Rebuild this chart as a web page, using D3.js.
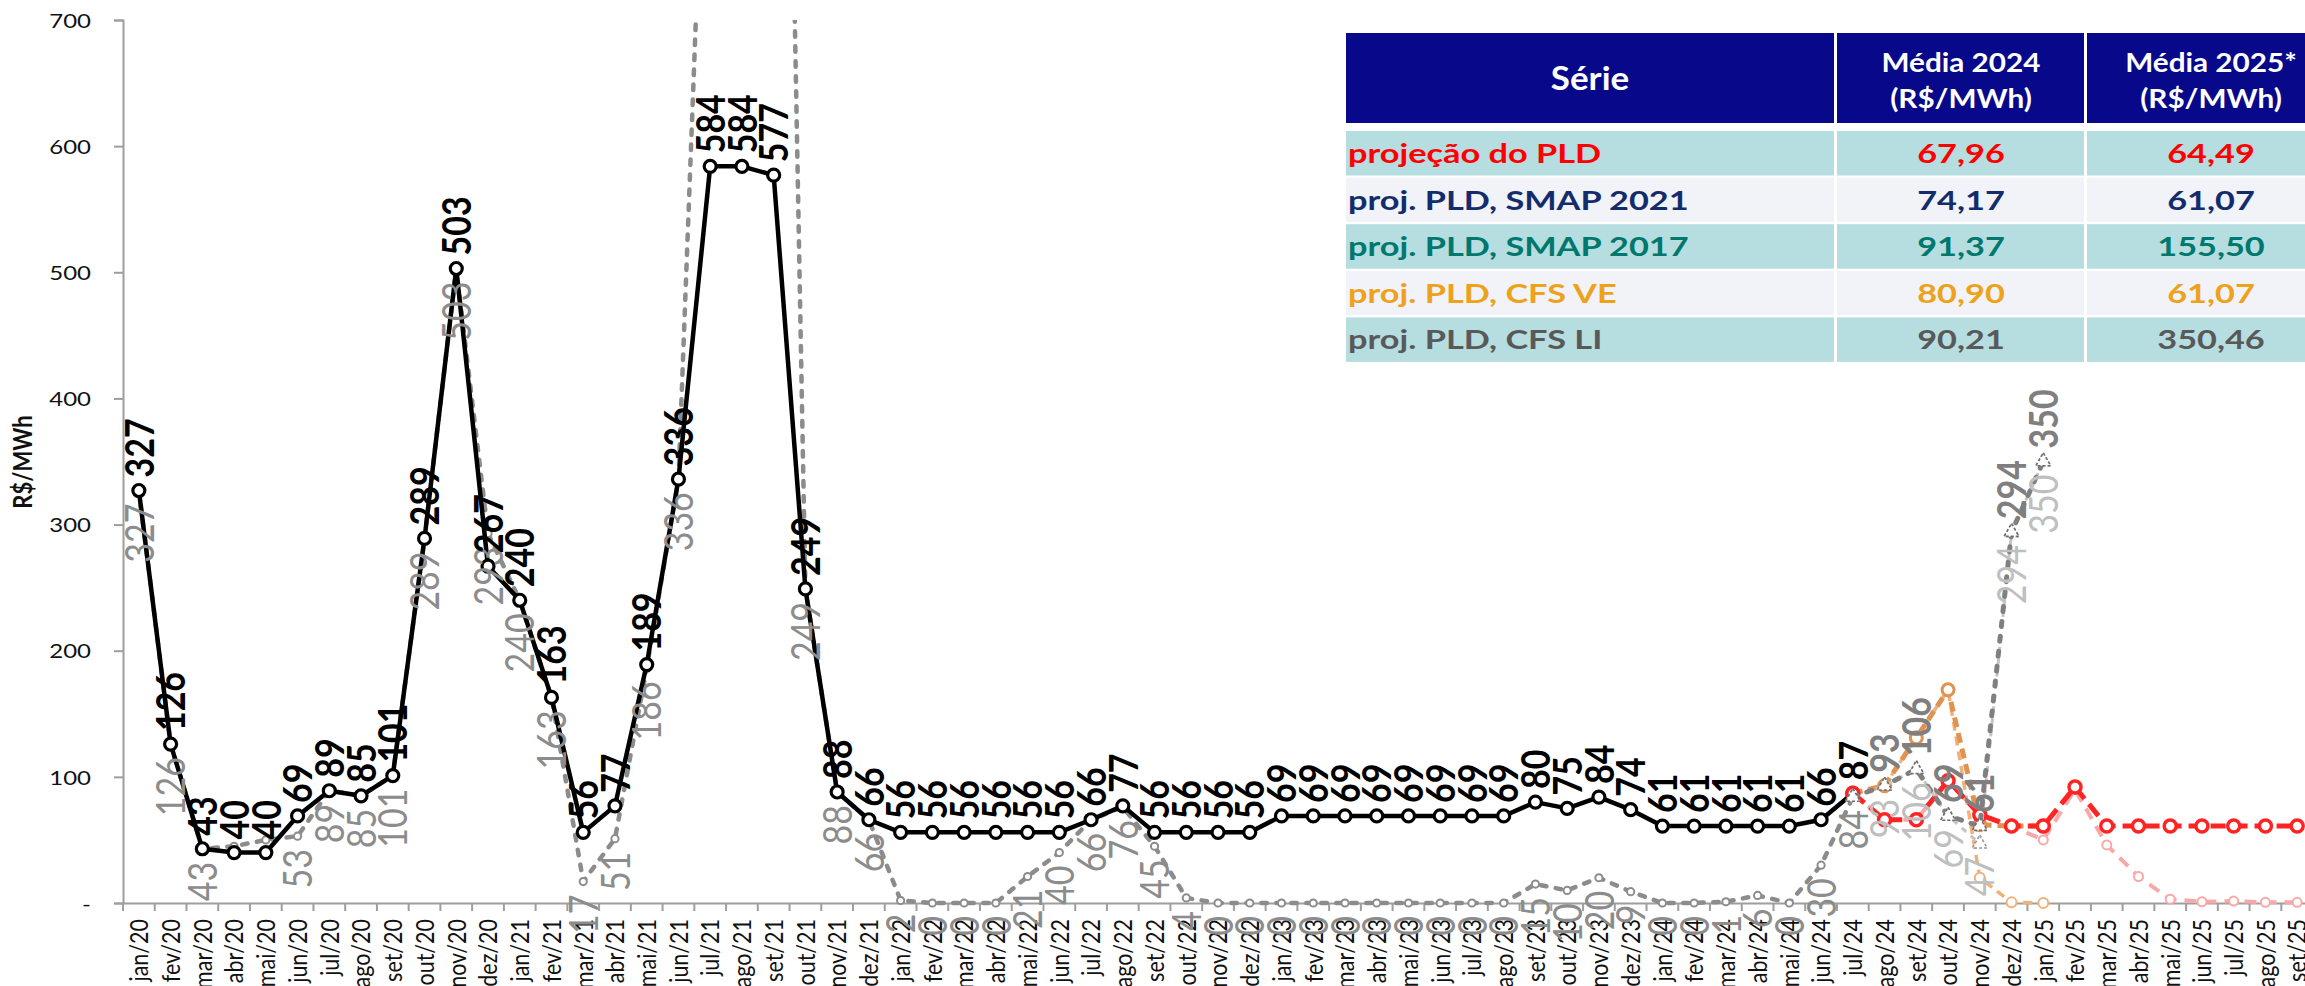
<!DOCTYPE html>
<html><head><meta charset="utf-8">
<script src="https://cdn.jsdelivr.net/npm/d3@7"></script>
<style>html,body{margin:0;padding:0;background:#fff;overflow:hidden}</style>
</head><body>
<svg id="chart" width="2305" height="986"></svg>
<script>
// ---------- DATA ----------
const categories = [
 "jan/20","fev/20","mar/20","abr/20","mai/20","jun/20","jul/20","ago/20","set/20","out/20","nov/20","dez/20",
 "jan/21","fev/21","mar/21","abr/21","mai/21","jun/21","jul/21","ago/21","set/21","out/21","nov/21","dez/21",
 "jan/22","fev/22","mar/22","abr/22","mai/22","jun/22","jul/22","ago/22","set/22","out/22","nov/22","dez/22",
 "jan/23","fev/23","mar/23","abr/23","mai/23","jun/23","jul/23","ago/23","set/23","out/23","nov/23","dez/23",
 "jan/24","fev/24","mar/24","abr/24","mai/24","jun/24","jul/24","ago/24","set/24","out/24","nov/24","dez/24",
 "jan/25","fev/25","mar/25","abr/25","mai/25","jun/25","jul/25","ago/25","set/25"];
const yTicks = [0,100,200,300,400,500,600,700];
const yTickLabels = ["-","100","200","300","400","500","600","700"];

// PLD realizado (black)
const pldHist = [
 327,126,43,40,40,69,89,85,101,289,503,267,
 240,163,56,77,189,336,584,584,577,249,88,66,
 56,56,56,56,56,56,66,77,56,56,56,56,
 69,69,69,69,69,69,69,69,80,75,84,74,
 61,61,61,61,61,66,87,null,null,null,null,null,
 null,null,null,null,null,null,null,null,null];
// backtest series (grey dashed)
const pldBacktest = [
 327,126,43,45,50,53,89,85,101,289,503,293,
 240,163,17,51,186,336,1000,1300,1600,249,88,66,
 2,0,0,0,21,40,66,76,45,4,0,0,
 0,0,0,0,0,0,0,0,15,10,20,9,
 0,0,1,6,0,30,84,null,null,null,null,null,
 null,null,null,null,null,null,null,null,null];
const backtestHiddenLabels = ["abr/20","mai/20"];
// projections
const projPLD = [
 ...Array(54).fill(null),
 87,66,66,97,70,61,
 61,92,61,61,61,61,61,61,61];
const projPink = [
 ...Array(54).fill(null),
 87,66,66,97,70,61,
 50,90,46,21,3,1,1.5,0.5,0.5];
const projOrange = [
 ...Array(54).fill(null),
 87,93,131,169,62,61,
 61,null,null,null,null,null,null,null,null];
const projOrangeLight = [
 ...Array(54).fill(null),
 87,93,131,169,20,0.5,
 0,null,null,null,null,null,null,null,null];
const projGrayDark = [
 ...Array(54).fill(null),
 84,93,106,69,61,294,
 350,null,null,null,null,null,null,null,null];
const projGrayLight = [
 ...Array(54).fill(null),
 84,93,106,69,47,294,
 350,null,null,null,null,null,null,null,null];
const triLabelFrom = "ago/24";

// table
const tableHeader = ["Série", ["Média 2024","(R$/MWh)"], ["Média 2025*","(R$/MWh)"]];
const tableSeries = ["projeção do PLD","proj. PLD, SMAP 2021","proj. PLD, SMAP 2017","proj. PLD, CFS VE","proj. PLD, CFS LI"];
const tableAvg2024 = ["67,96","74,17","91,37","80,90","90,21"];
const tableAvg2025 = ["64,49","61,07","155,50","61,07","350,46"];
const tableColors = ["#ff0000","#132d6c","#00786e","#eea21c","#595959"];

(function(){
// ---------- LAYOUT ----------
const svg = d3.select("#chart");
const FONT = "Lato, 'Open Sans', sans-serif";
const SX = 1.2; // horizontal glyph stretch seen in the reference
const pLeft = 123, pTop = 20, pBottom = 903, bandW = 31.74;
const x = d3.scaleBand().domain(categories).range([pLeft, pLeft + categories.length * bandW]).padding(0);
const cx = c => x(c) + x.bandwidth() / 2;
const y = d3.scaleLinear().domain([0, 700]).range([pBottom, pTop]);

svg.append("defs").append("clipPath").attr("id","plotclip")
  .append("rect").attr("x", pLeft).attr("y", pTop).attr("width", 2400).attr("height", 986 - pTop);

// axes
const yAxis = svg.append("g").attr("transform", `translate(${pLeft},0)`)
  .call(d3.axisLeft(y).tickValues(yTicks).tickSize(9).tickFormat((d,i) => yTickLabels[i]));
yAxis.select(".domain").attr("stroke", "#9e9e9e").attr("stroke-width", 2);
yAxis.selectAll(".tick line").attr("stroke", "#9e9e9e").attr("stroke-width", 2);
yAxis.selectAll(".tick text")
  .attr("x", -(pLeft - 91) / SX).attr("dy", "0.36em")
  .attr("transform", `scale(${SX},1)`)
  .attr("font-family", FONT).attr("font-size", 20).attr("fill", "#111").attr("text-anchor","end");

const xAxis = svg.append("g").attr("transform", `translate(0,${pBottom})`)
  .call(d3.axisBottom(x).tickSize(0));
xAxis.select(".domain").attr("stroke", "#9e9e9e").attr("stroke-width", 2);
xAxis.selectAll(".tick text")
  .attr("x", 0).attr("y", 0).attr("dy", "0.36em")
  .attr("transform", `translate(0,16) scale(${SX},1) rotate(-90)`)
  .attr("text-anchor", "end")
  .attr("font-family", FONT).attr("font-size", 21.5).attr("fill", "#111");
const bounds = categories.map(c => x(c)).concat([x.range()[1]]);
xAxis.selectAll("line.bt").data(bounds).enter().append("line")
  .attr("class","bt")
  .attr("x1", d => d).attr("x2", d => d)
  .attr("y1", 0).attr("y2", 8).attr("stroke", "#9e9e9e").attr("stroke-width", 2);

// y title
svg.append("text").text("R$/MWh")
  .attr("transform", `translate(22,462) scale(${SX},1) rotate(-90)`)
  .attr("text-anchor","middle").attr("dy","0.36em")
  .attr("font-family", FONT).attr("font-weight", 700).attr("font-size", 22).attr("fill","#111");

// ---------- SERIES ----------
const toPts = arr => categories.map((c,i) => ({c, v: arr[i]}));
const line = d3.line().defined(d => d.v != null).x(d => cx(d.c)).y(d => y(d.v));
const plot = svg.append("g").attr("clip-path", "url(#plotclip)");

function drawSeries(arr, st) {
  const pts = toPts(arr);
  plot.append("path").datum(pts).attr("d", line).attr("fill","none")
    .attr("stroke", st.color).attr("stroke-width", st.width)
    .attr("stroke-dasharray", st.dash || null).attr("stroke-linecap", st.cap || "butt")
    .attr("stroke-linejoin","round");
  const m = plot.append("g").selectAll("g").data(pts.filter(d => d.v != null)).enter();
  if (st.marker === "tri") {
    m.append("path").attr("d", d3.symbol(d3.symbolTriangle, st.size)())
      .attr("transform", d => `translate(${cx(d.c)},${y(d.v)})`)
      .attr("fill","#fff").attr("stroke", st.mstroke).attr("stroke-width", 1.6)
      .attr("stroke-dasharray","3,2");
  } else {
    m.append("circle").attr("cx", d => cx(d.c)).attr("cy", d => y(d.v)).attr("r", st.r)
      .attr("fill","#fff").attr("stroke", st.mstroke || st.color).attr("stroke-width", st.mw);
  }
}

const labels = svg.append("g");
function drawLabels(arr, pos, st, filter) {
  const pts = toPts(arr).filter(d => d.v != null && (!filter || filter(d)));
  labels.append("g").selectAll("text").data(pts).enter().append("text")
    .text(d => Math.round(d.v))
    .attr("transform", d => `translate(${cx(d.c)},${y(d.v) + (pos === "above" ? -13 : 13)}) scale(${SX},1) rotate(-90)`)
    .attr("text-anchor", pos === "above" ? "start" : "end")
    .attr("dy","0.36em")
    .attr("font-family", FONT).attr("font-size", st.size).attr("font-weight", st.weight)
    .attr("fill", st.color);
}

drawSeries(pldBacktest, {color:"#8c8c8c", width:4.5, dash:"5.5,9.5", cap:"round", r:3.6, mw:2});
drawSeries(pldHist, {color:"#000", width:4.5, r:6, mw:3.2});
drawSeries(projOrangeLight, {color:"#f2b07a", width:3.5, dash:"9,6", r:5, mw:2});
drawSeries(projOrange, {color:"#e0924e", width:5, dash:"10,6", r:6, mw:3});
drawSeries(projPink, {color:"#f8a8a8", width:4, dash:"12,8", r:4.5, mw:2});
drawSeries(projPLD, {color:"#ff2424", width:5, dash:"15,7", r:6, mw:3.5});
drawSeries(projGrayLight, {color:"#c4c4c4", width:3, dash:"6,6", marker:"tri", size:95, mstroke:"#9a9a9a"});
drawSeries(projGrayDark, {color:"#808080", width:5, dash:"5,10", cap:"round", marker:"tri", size:95, mstroke:"#6e6e6e"});

const triIdx = categories.indexOf(triLabelFrom);
drawLabels(pldBacktest, "below", {size:34, weight:400, color:"#8c8c8c"}, d => !backtestHiddenLabels.includes(d.c) && d.v <= 700);
drawLabels(pldHist, "above", {size:34, weight:700, color:"#000"});
drawLabels(projGrayLight, "below", {size:34, weight:400, color:"#bfbfbf"}, d => categories.indexOf(d.c) >= triIdx);
drawLabels(projGrayDark, "above", {size:34, weight:700, color:"#7f7f7f"}, d => categories.indexOf(d.c) >= triIdx);

// ---------- TABLE ----------
const tb = svg.append("g");
const colX = [1346, 1837, 2087], colW = [488, 247, 240];
const headTop = 33, headH = 90, rowTop = 131, rowStep = 46.6, rowH = 44.5;
colX.forEach((cxx,i) => tb.append("rect").attr("x", cxx).attr("y", headTop).attr("width", colW[i]).attr("height", headH).attr("fill", "#08088a"));
const colC = [1590, 1961, 2211];
tb.append("text").text(tableHeader[0])
  .attr("transform", `translate(${colC[0]},${headTop + headH/2}) scale(1.06,1)`)
  .attr("dy","0.36em").attr("text-anchor","middle")
  .attr("font-family", FONT).attr("font-weight",700).attr("font-size", 33).attr("fill","#fff");
[1,2].forEach(k => {
  tableHeader[k].forEach((t,j) => {
    tb.append("text").text(t)
      .attr("transform", `translate(${colC[k]},${72 + j*36}) scale(1.1,1)`)
      .attr("text-anchor","middle")
      .attr("font-family", FONT).attr("font-weight",700).attr("font-size", 27).attr("fill","#fff");
  });
});
tableSeries.forEach((s,i) => {
  const ry = rowTop + i*rowStep;
  const fill = i % 2 === 0 ? "#b6dde0" : "#f2f3f8";
  colX.forEach((cxx,k) => tb.append("rect").attr("x", cxx).attr("y", ry).attr("width", colW[k]).attr("height", rowH).attr("fill", fill));
  const vals = [s, tableAvg2024[i], tableAvg2025[i]];
  vals.forEach((t,k) => {
    tb.append("text").text(t)
      .attr("transform", `translate(${k === 0 ? 1348 : colC[k]},${ry + rowH/2}) scale(1.27,1)`)
      .attr("dy","0.36em").attr("text-anchor", k === 0 ? "start" : "middle")
      .attr("font-family", FONT).attr("font-weight",700).attr("font-size", 27).attr("fill", tableColors[i]);
  });
});
})();
</script>
</body></html>
